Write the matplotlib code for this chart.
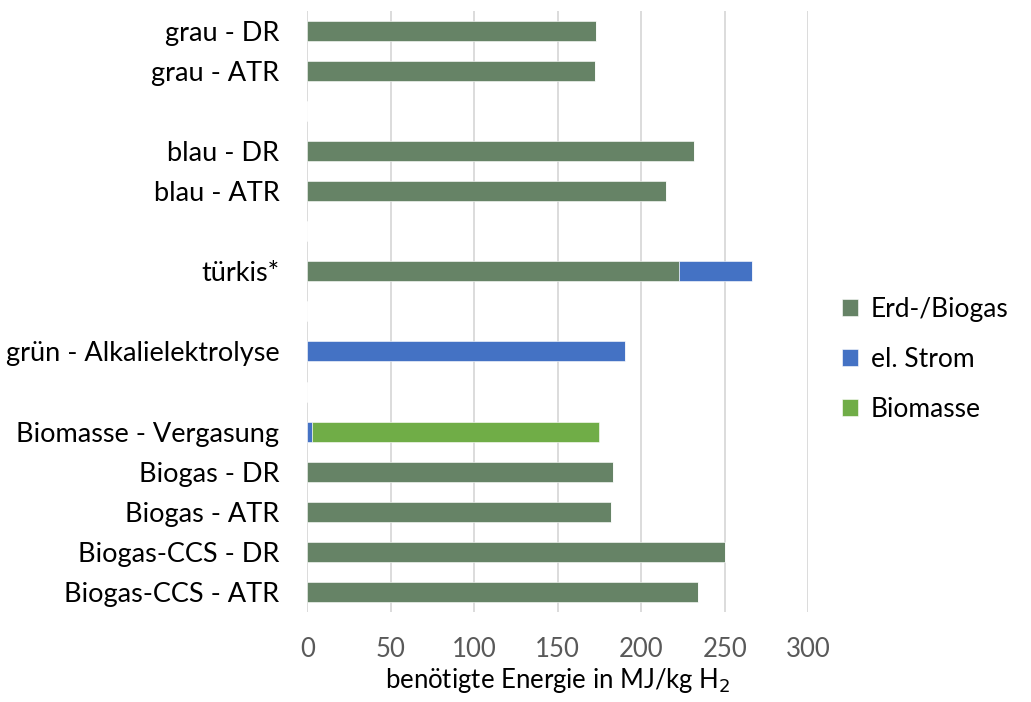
import matplotlib
matplotlib.use("Agg")
import matplotlib.pyplot as plt
import numpy as np

# =========================
# Daten (von oben nach unten, "" = Lücke)
# =========================
kategorien = ["grau - DR", "grau - ATR", "",
              "blau - DR", "blau - ATR", "",
              "türkis*", "",
              "grün - Alkalielektrolyse", "",
              "Biomasse - Vergasung", "Biogas - DR", "Biogas - ATR",
              "Biogas-CCS - DR", "Biogas-CCS - ATR"]

erdgas   = [173, 172.3, 0, 231.6, 215, 0, 222.3, 0, 0, 0, 0, 182.8, 181.8, 250, 233.9]
strom    = [0, 0, 0, 0, 0, 0, 43.7, 0, 190.5, 0, 2.7, 0, 0, 0, 0]
biomasse = [0, 0, 0, 0, 0, 0, 0, 0, 0, 0, 172.1, 0, 0, 0, 0]

reihen = ["Erd-/Biogas", "el. Strom", "Biomasse"]
farben = ["#668366", "#4472C4", "#70AD47"]
x_ticks = [0, 50, 100, 150, 200, 250, 300]

plt.rcParams['font.family'] = ['Lato', 'DejaVu Sans']
fs = 18.5

fig = plt.figure(figsize=(10.31, 7.02), dpi=100)
ax = fig.add_axes([0.298, 0.128, 0.486, 0.857])

y = np.arange(len(kategorien))
links = np.zeros(len(kategorien))
for werte, name, farbe in zip([erdgas, strom, biomasse], reihen, farben):
    werte = np.array(werte)
    ax.barh(y, werte, left=links, height=0.5, color=farbe, label=name,
            edgecolor="white", linewidth=0.4, zorder=3)
    links += werte

ax.set_yticks(y)
ax.set_yticklabels(kategorien, fontsize=19.5)
ax.set_ylim(len(kategorien) - 0.5, -0.5)
ax.set_xlim(0, 300)
ax.set_xticks(x_ticks)
ax.tick_params(axis="x", labelsize=fs, labelcolor="#595959", length=0, pad=18)
ax.tick_params(axis="y", length=0, pad=20)
ax.grid(axis="x", color="#d9d9d9", linewidth=1.3, zorder=0)
for s in ax.spines.values():
    s.set_visible(False)

ax.set_xlabel("benötigte Energie in MJ/kg H$_2$", fontsize=fs, labelpad=3)

ax.legend(loc="center left", bbox_to_anchor=(1.02, 0.42), frameon=False,
          fontsize=19, handlelength=0.6, handleheight=0.6,
          labelspacing=0.95, handletextpad=0.5)

plt.savefig("out.png", dpi=100)
